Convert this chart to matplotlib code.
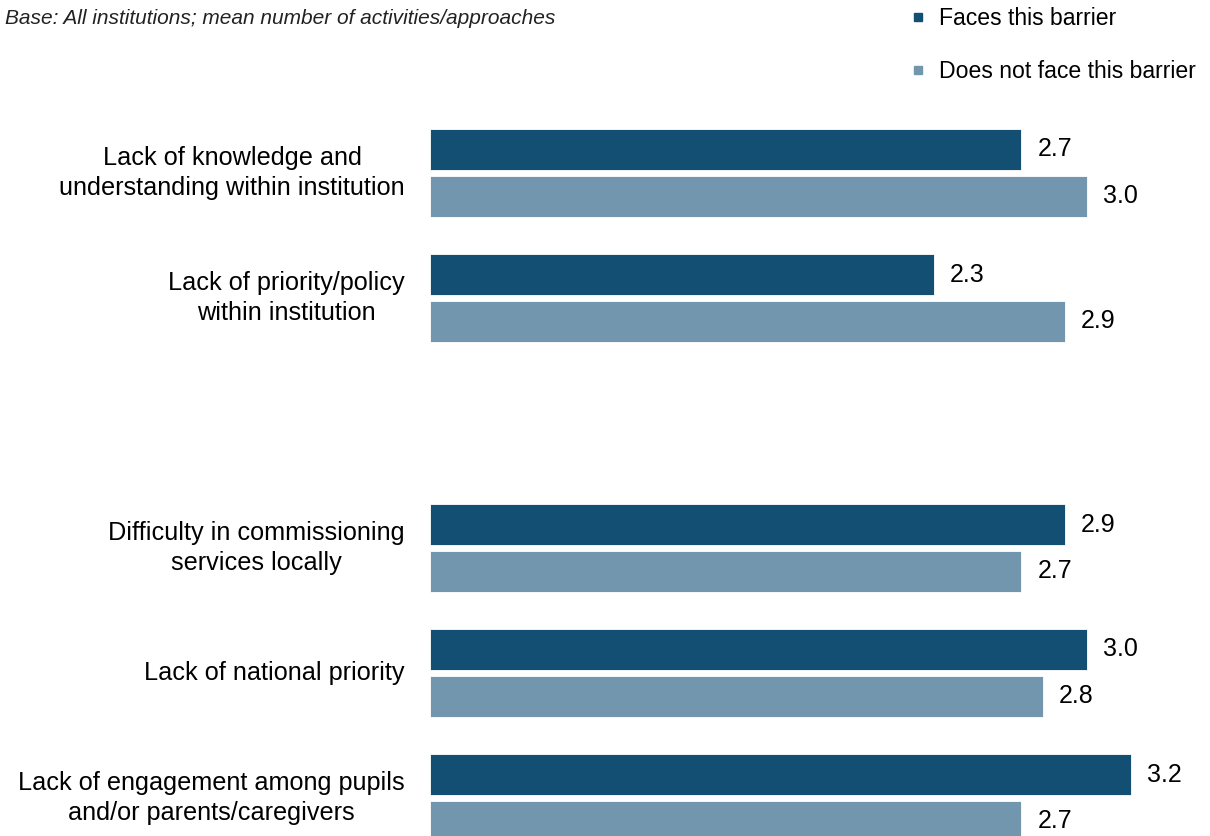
import numpy as np
import matplotlib.pyplot as plt
from matplotlib.lines import Line2D

plt.rcParams['font.family'] = ['Liberation Sans', 'DejaVu Sans']

# --- Data ---
categories = [
    "Lack of knowledge and\nunderstanding within institution",
    "Lack of priority/policy\nwithin institution",
    "",
    "Difficulty in commissioning\nservices locally",
    "Lack of national priority",
    "Lack of engagement among pupils\nand/or parents/caregivers",
]
faces = [2.7, 2.3, None, 2.9, 3.0, 3.2]
not_faces = [3.0, 2.9, None, 2.7, 2.8, 2.7]
series_labels = ["Faces this barrier", "Does not face this barrier"]

DARK = "#124F73"
LIGHT = "#7196AE"
W, H = 1210, 836

fig = plt.figure(figsize=(W / 100, H / 100), dpi=100)
ax = fig.add_axes([430 / W, 0, (1205 - 430) / W, 1])

# y in category units, 125 px per category, first center at 172.75 px
pitch = 125.0
y0 = 172.75
ax.set_ylim((H - y0) / pitch, -y0 / pitch)
ax.set_xlim(0, (1205 - 430) / 219.0)

bar_h = 41 / pitch
off = 23.25 / pitch
pos = np.arange(len(categories))

for i, (a, b) in enumerate(zip(faces, not_faces)):
    if a is None:
        continue
    ax.barh(pos[i] - off, a, height=bar_h, color=DARK, edgecolor="white", linewidth=0.6)
    ax.barh(pos[i] + off, b, height=bar_h, color=LIGHT, edgecolor="white", linewidth=0.6)
    ax.text(a + 16 / 219, pos[i] - off, f"{a:.1f}", va="center", ha="left", fontsize=18)
    ax.text(b + 16 / 219, pos[i] + off, f"{b:.1f}", va="center", ha="left", fontsize=18)
    ax.text(-25 / 219, pos[i], categories[i], va="center", ha="right", multialignment="center",
            fontsize=18.2, linespacing=1.3, clip_on=False)

ax.axis("off")

fig.text(5 / W, 1 - 19 / H, "Base: All institutions; mean number of activities/approaches",
         fontsize=15, style="italic", va="center", ha="left", color="#222222")

handles = [Line2D([], [], marker="s", linestyle="none", color=DARK, markersize=6),
           Line2D([], [], marker="s", linestyle="none", color=LIGHT, markersize=6)]
fig.legend(handles, series_labels, loc="upper left", bbox_to_anchor=(909 / W, 1 - 5 / H),
           frameon=False, fontsize=16.6, handlelength=0.6, handletextpad=0.6,
           labelspacing=1.3, borderaxespad=0, borderpad=0.1)

fig.savefig("out.png", dpi=100)
